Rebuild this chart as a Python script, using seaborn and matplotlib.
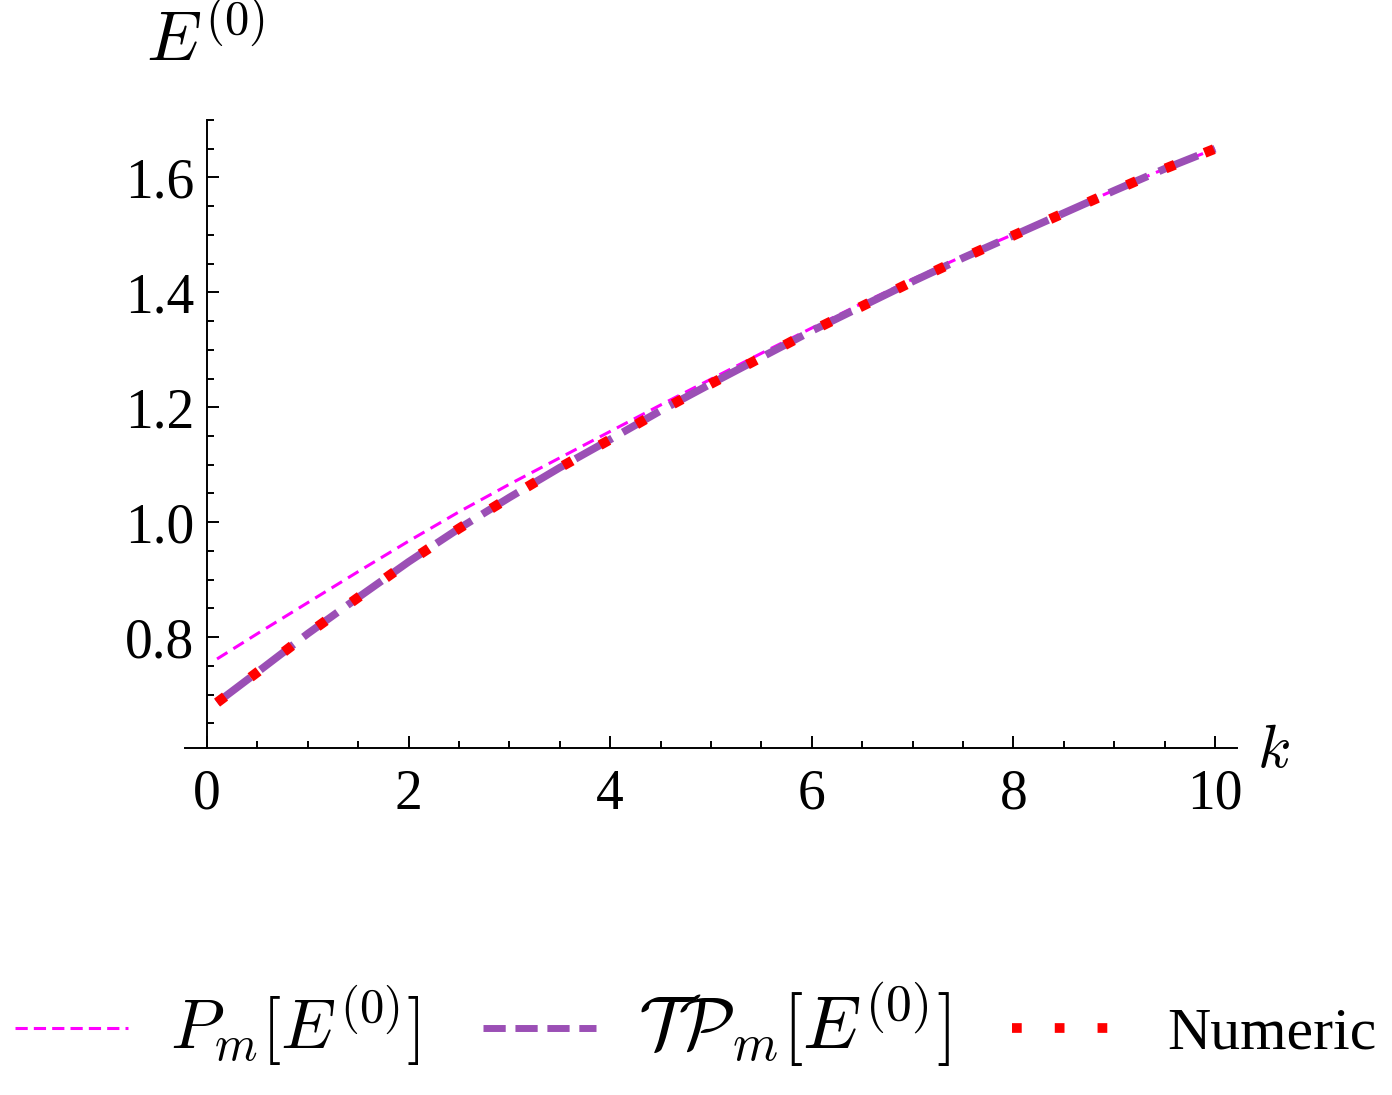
import matplotlib
matplotlib.use("Agg")
import matplotlib.pyplot as plt
from matplotlib.lines import Line2D
from matplotlib.ticker import MultipleLocator
import seaborn as sns
import pandas as pd

# values
k_vals = [0.1, 0.5, 1.0, 1.5, 2.0, 2.5, 3.0, 3.5, 4.0, 4.5, 5.0,
          5.5, 6.0, 6.5, 7.0, 7.5, 8.0, 8.5, 9.0, 9.5, 10.0]
pm_vals = [0.762, 0.806, 0.860, 0.914, 0.967, 1.018, 1.066, 1.112, 1.158, 1.204, 1.249,
           1.294, 1.338, 1.381, 1.423, 1.463, 1.501, 1.539, 1.578, 1.615, 1.650]
tp_vals = [0.686, 0.739, 0.806, 0.869, 0.931, 0.989, 1.043, 1.095, 1.144, 1.194, 1.241,
           1.287, 1.333, 1.376, 1.419, 1.460, 1.499, 1.538, 1.577, 1.615, 1.650]
num_vals = [0.686, 0.739, 0.806, 0.869, 0.931, 0.989, 1.043, 1.095, 1.144, 1.194, 1.241,
            1.287, 1.333, 1.376, 1.419, 1.460, 1.499, 1.538, 1.577, 1.615, 1.650]
labels = [r"$P_m[E^{(0)}]$", r"$\mathcal{T}\mathcal{P}_m[E^{(0)}]$", "Numeric"]
x_ticks = [0, 2, 4, 6, 8, 10]
y_ticks = [0.8, 1.0, 1.2, 1.4, 1.6]

sns.set_style("ticks")
plt.rcParams["font.family"] = ["Liberation Serif", "DejaVu Serif"]
plt.rcParams["mathtext.fontset"] = "cm"
plt.rcParams["text.color"] = "black"
plt.rcParams["axes.edgecolor"] = "black"
plt.rcParams["xtick.color"] = "black"
plt.rcParams["ytick.color"] = "black"

MAGENTA = "#ff00ff"
PURPLE = "#9b4fb5"
RED = "#ff0000"

df = pd.DataFrame({"k": k_vals, "pm": pm_vals, "tp": tp_vals, "num": num_vals})

fig = plt.figure(figsize=(13.92, 10.95), dpi=100)
ax = fig.add_axes([185 / 1392, 1 - 748 / 1095, (1237 - 185) / 1392, (748 - 120) / 1095])

sns.lineplot(data=df, x="k", y="pm", ax=ax, color=MAGENTA, lw=2.2)
sns.lineplot(data=df, x="k", y="tp", ax=ax, color=PURPLE, lw=5.5)
sns.lineplot(data=df, x="k", y="num", ax=ax, color=RED, lw=7.2)

line_pm, line_tp, line_num = ax.lines[:3]
line_pm.set_dashes((4.0, 2.3))
line_tp.set_dashes((5.5, 1.6))
line_num.set_dashes((1.0, 3.2))
for ln in (line_pm, line_tp, line_num):
    ln.set_dash_capstyle("butt")

ax.set_xlim(-0.218, 10.218)
ax.set_ylim(0.607, 1.700)
ax.spines["left"].set_position(("data", 0))
ax.spines["top"].set_visible(False)
ax.spines["right"].set_visible(False)
for s in ("left", "bottom"):
    ax.spines[s].set_linewidth(1.4)
    ax.spines[s].set_color("black")

ax.set_xticks(x_ticks)
ax.set_yticks(y_ticks)
ax.set_yticklabels([f"{v:.1f}" for v in y_ticks])
ax.xaxis.set_minor_locator(MultipleLocator(0.5))
ax.yaxis.set_minor_locator(MultipleLocator(0.05))
ax.tick_params(which="both", direction="in", width=1.4, labelsize=40,
               colors="black", labelcolor="black")
ax.tick_params(which="major", length=8.6)
ax.tick_params(which="minor", length=5.2)
ax.tick_params(axis="x", which="major", pad=15)
ax.tick_params(axis="y", which="major", pad=9)
ax.set_xlabel("")
ax.set_ylabel("")

fig.text(205 / 1392, 1 - 42 / 1095, r"$E^{(0)}$", fontsize=50, ha="center", va="center")
fig.text(1273 / 1392, 1 - 752 / 1095, r"$k$", fontsize=44, ha="center", va="center")

handles = [
    Line2D([], [], color=MAGENTA, lw=2.2, dashes=(4.0, 2.0)),
    Line2D([], [], color=PURPLE, lw=5.0, dashes=(3.2, 1.4)),
    Line2D([], [], color=RED, lw=7.0, dashes=(1.0, 3.4)),
]
for h in handles:
    h.set_dash_capstyle("butt")
leg = fig.legend(handles, labels, loc="center", bbox_to_anchor=(0.5, 1 - 1024 / 1095),
                 ncol=3, frameon=False, fontsize=43, handlelength=1.9,
                 handletextpad=0.7, columnspacing=1.05)
leg.get_texts()[0].set_fontsize(50)
leg.get_texts()[1].set_fontsize(53)

fig.savefig("out.png", dpi=100)
